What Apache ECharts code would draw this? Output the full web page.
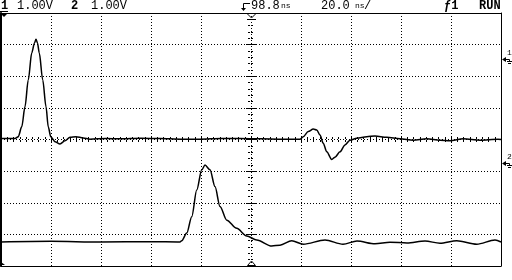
<!DOCTYPE html>
<html><head><meta charset="utf-8">
<script src="https://cdn.jsdelivr.net/npm/echarts@6/dist/echarts.min.js"></script>
<style>html,body{margin:0;padding:0;background:#fff}#c{width:512px;height:280px}</style>
</head><body><div id="c"></div>
<script>
// Channel 1 trace: time (ns, relative to trigger position) and volts (relative to screen centre)
const ch1Time = [-100, -94.4, -93.1, -91.7, -90.4, -89.1, -87.7, -86.6, -86.0, -85.4, -84.7, -83.3, -82.0, -81.1, -80.1, -78.4, -76.4, -74.4, -72.4, -70.0, -67.1, -64.4, -58, -52.4, -44, -36.4, -28, -20.4, -12, -4.4, 4, 11.6, 19.6, 20.9, 22.9, 24.9, 26.3, 27.6, 28.9, 30.3, 32.3, 33.6, 35.6, 37.6, 39.6, 42.3, 46.3, 49.6, 54.3, 59.6, 64.9, 70.3, 75.6, 79.6, 84.9, 91.6, 98.8, 100];
const ch1Volts = [0.03, 0.03, 0.09, 0.40, 1.04, 1.88, 2.74, 3.05, 3.17, 3.05, 2.74, 1.88, 1.04, 0.40, 0.09, -0.07, -0.14, -0.04, 0.07, 0.09, 0.05, 0.01, 0.03, 0.02, 0.04, 0.03, 0.01, 0.01, 0.03, 0.03, 0.02, 0.01, 0.01, 0.09, 0.25, 0.33, 0.30, 0.14, -0.12, -0.39, -0.63, -0.56, -0.39, -0.17, -0.02, 0.04, 0.09, 0.11, 0.07, 0.02, -0.02, 0.02, -0.02, -0.04, 0.02, -0.02, 0.01, 0.00];
// Channel 2 trace
const ch2Time = [-100, -80, -60, -40, -28.4, -27.7, -25.7, -23.7, -21.7, -19.7, -18.4, -16.4, -14.4, -12.4, -9.7, -5.7, -1.7, 2.3, 8.3, 11.6, 16.3, 20.9, 29.6, 36.8, 42.4, 49.6, 55.6, 62.4, 69.6, 75.6, 82.3, 90.3, 97.6, 100];
const ch2Volts = [-3.24, -3.22, -3.24, -3.23, -3.24, -3.20, -2.96, -2.44, -1.60, -0.96, -0.81, -0.96, -1.49, -2.12, -2.55, -2.81, -3.05, -3.18, -3.37, -3.34, -3.20, -3.31, -3.18, -3.31, -3.21, -3.30, -3.25, -3.27, -3.21, -3.28, -3.20, -3.31, -3.18, -3.24];
// Axis ranges (divisions)
const timeRange = [-100, 100];   // ns, 20 ns/div
const timeStep = 20;
const voltRange = [-4, 4];       // V, 1 V/div
const voltStep = 1;
// Header texts
const ch1Label = '1';
const ch1Scale = '1.00V';
const ch2Label = '2';
const ch2Scale = '1.00V';
const trigDelay = '98.8';
const timeBase = '20.0';
const unitLabel = 'ns';
const trigSource = 'ƒ1';
const runState = 'RUN';

const zip = (a, b) => a.map((v, i) => [v, b[i]]);
const BLK = '#000';
const MONO = '"Liberation Mono", "DejaVu Sans Mono", monospace';
const dotted = { show: true, lineStyle: { color: BLK, width: 1, type: [1, 2] } };
const noLbl = { show: false };

const chart = echarts.init(document.getElementById('c'), null, { renderer: 'canvas' });

const baseX = { type: 'value', min: timeRange[0], max: timeRange[1], interval: timeStep };
const baseY = { type: 'value', min: voltRange[0], max: voltRange[1], interval: voltStep };

const option = {
  animation: false,
  backgroundColor: '#fff',
  grid: [
    { left: 1, top: 13, width: 500, height: 253 },
    { left: 1, top: 139, width: 500, height: 1 },
    { left: 250, top: 13, width: 1, height: 253 }
  ],
  xAxis: [
    Object.assign({}, baseX, { gridIndex: 0, position: 'bottom', axisLine: { onZero: false, lineStyle: { color: BLK, width: 1 } }, axisTick: { show: false }, axisLabel: noLbl, splitLine: dotted }),
    Object.assign({}, baseX, { gridIndex: 0, position: 'top', axisLine: { onZero: false, lineStyle: { color: BLK, width: 1 } }, axisTick: { show: false }, axisLabel: noLbl, splitLine: { show: false } }),
    Object.assign({}, baseX, { gridIndex: 1, position: 'top', axisLine: { show: false, onZero: false }, axisTick: { show: true, length: 3, lineStyle: { color: BLK } }, minorTick: { show: true, splitNumber: 8, length: 2, lineStyle: { color: BLK } }, axisLabel: noLbl, splitLine: { show: false } }),
    Object.assign({}, baseX, { gridIndex: 1, position: 'bottom', axisLine: { show: false, onZero: false }, axisTick: { show: true, length: 2, lineStyle: { color: BLK } }, minorTick: { show: true, splitNumber: 8, length: 2, lineStyle: { color: BLK } }, axisLabel: noLbl, splitLine: { show: false } }),
    Object.assign({}, baseX, { gridIndex: 2, show: false })
  ],
  yAxis: [
    Object.assign({}, baseY, { gridIndex: 0, position: 'left', axisLine: { onZero: false, lineStyle: { color: BLK, width: 2 } }, axisTick: { show: false }, axisLabel: noLbl, splitLine: dotted }),
    Object.assign({}, baseY, { gridIndex: 0, position: 'right', axisLine: { onZero: false, lineStyle: { color: BLK, width: 1 } }, axisTick: { show: false }, axisLabel: noLbl, splitLine: { show: false } }),
    Object.assign({}, baseY, { gridIndex: 1, show: false }),
    Object.assign({}, baseY, { gridIndex: 2, position: 'left', axisLine: { show: false, onZero: false }, axisTick: { show: true, length: 4, lineStyle: { color: BLK } }, minorTick: { show: true, splitNumber: 5, length: 2, lineStyle: { color: BLK } }, axisLabel: noLbl, splitLine: { show: false } }),
    Object.assign({}, baseY, { gridIndex: 2, position: 'right', axisLine: { show: false, onZero: false }, axisTick: { show: true, length: 5, lineStyle: { color: BLK } }, minorTick: { show: true, splitNumber: 5, length: 2, lineStyle: { color: BLK } }, axisLabel: noLbl, splitLine: { show: false } })
  ],
  series: [
    { name: 'CH1', type: 'line', xAxisIndex: 0, yAxisIndex: 0, data: zip(ch1Time, ch1Volts), showSymbol: false, symbol: 'none', smooth: 0.3, smoothMonotone: 'x', lineStyle: { color: BLK, width: 1.5 } },
    { name: 'CH2', type: 'line', xAxisIndex: 0, yAxisIndex: 0, data: zip(ch2Time, ch2Volts), showSymbol: false, symbol: 'none', smooth: 0.3, smoothMonotone: 'x', lineStyle: { color: BLK, width: 1.5 } }
  ],
  graphic: [
    // header texts
    { type: 'text', x: 1, y: 0, style: { text: ch1Label, font: 'bold 12px ' + MONO, fill: BLK } },
    { type: 'line', shape: { x1: 0, y1: 11.5, x2: 8, y2: 11.5 }, style: { stroke: BLK, lineWidth: 1 } },
    { type: 'text', x: 17, y: 0, style: { text: ch1Scale, font: '12px ' + MONO, fill: BLK } },
    { type: 'text', x: 71, y: 0, style: { text: ch2Label, font: 'bold 12px ' + MONO, fill: BLK } },
    { type: 'text', x: 91, y: 0, style: { text: ch2Scale, font: '12px ' + MONO, fill: BLK } },
    // trigger-position glyph
    { type: 'polyline', shape: { points: [[250, 3.5], [243.5, 3.5], [243.5, 9]] }, style: { stroke: BLK, lineWidth: 1, fill: null } },
    { type: 'polygon', shape: { points: [[241, 8], [246, 8], [243.5, 11]] }, style: { fill: BLK } },
    { type: 'text', x: 251, y: 0, style: { text: trigDelay, font: '12px ' + MONO, fill: BLK } },
    { type: 'text', x: 281, y: 2, style: { text: unitLabel, font: '8px ' + MONO, fill: BLK } },
    { type: 'text', x: 321, y: 0, style: { text: timeBase, font: '12px ' + MONO, fill: BLK } },
    { type: 'text', x: 355, y: 2, style: { text: unitLabel, font: '8px ' + MONO, fill: BLK } },
    { type: 'text', x: 364, y: 0, style: { text: '/', font: '12px ' + MONO, fill: BLK } },
    { type: 'text', x: 444, y: 0, style: { text: trigSource, font: 'bold 12px ' + MONO, fill: BLK } },
    { type: 'text', x: 479, y: 0, style: { text: runState, font: 'bold 12px ' + MONO, fill: BLK } },
    // small markers on the graticule
    { type: 'polygon', shape: { points: [[1, 14], [7, 14], [4, 17]] }, style: { fill: BLK } },
    { type: 'polygon', shape: { points: [[1, 262], [5, 265], [1, 265]] }, style: { fill: BLK } },
    { type: 'polyline', shape: { points: [[247.5, 14], [251.5, 18], [255.5, 14]] }, style: { stroke: BLK, lineWidth: 1, fill: null } },
    { type: 'line', shape: { x1: 247, y1: 19.5, x2: 256, y2: 19.5 }, style: { stroke: BLK, lineWidth: 1 } },
    { type: 'polygon', shape: { points: [[247.5, 265.5], [251.5, 261], [255.5, 265.5]] }, style: { stroke: BLK, lineWidth: 1, fill: '#fff' } },
    // channel ground markers on the right
    { type: 'polygon', shape: { points: [[502, 59.5], [506, 57], [506, 62]] }, style: { fill: BLK } },
    { type: 'line', shape: { x1: 506, y1: 59.5, x2: 509.5, y2: 59.5 }, style: { stroke: BLK, lineWidth: 1 } },
    { type: 'line', shape: { x1: 509.5, y1: 59.5, x2: 509.5, y2: 61.5 }, style: { stroke: BLK, lineWidth: 1 } },
    { type: 'line', shape: { x1: 507, y1: 61.5, x2: 512, y2: 61.5 }, style: { stroke: BLK, lineWidth: 1 } },
    { type: 'line', shape: { x1: 508, y1: 63.5, x2: 511, y2: 63.5 }, style: { stroke: BLK, lineWidth: 1 } },
    { type: 'text', x: 507, y: 49, style: { text: ch1Label, font: '8px ' + MONO, fill: BLK } },
    { type: 'polygon', shape: { points: [[502, 163.5], [506, 161], [506, 166]] }, style: { fill: BLK } },
    { type: 'line', shape: { x1: 506, y1: 163.5, x2: 509.5, y2: 163.5 }, style: { stroke: BLK, lineWidth: 1 } },
    { type: 'line', shape: { x1: 509.5, y1: 163.5, x2: 509.5, y2: 165.5 }, style: { stroke: BLK, lineWidth: 1 } },
    { type: 'line', shape: { x1: 507, y1: 165.5, x2: 512, y2: 165.5 }, style: { stroke: BLK, lineWidth: 1 } },
    { type: 'line', shape: { x1: 508, y1: 167.5, x2: 511, y2: 167.5 }, style: { stroke: BLK, lineWidth: 1 } },
    { type: 'text', x: 507, y: 153, style: { text: ch2Label, font: '8px ' + MONO, fill: BLK } }
  ]
};
chart.setOption(option);
</script>
</body></html>
